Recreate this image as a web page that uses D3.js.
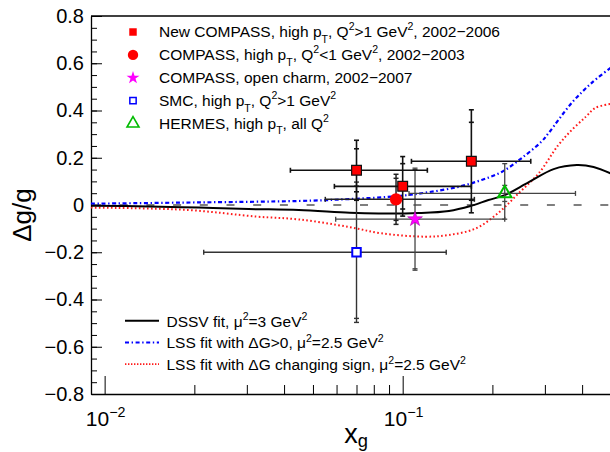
<!DOCTYPE html>
<html lang="en">
<head>
<meta charset="UTF-8">
<style>
    body {margin: 0; background: #fff;}
    text {font-family: "Liberation Sans", Arial, sans-serif; fill: #000;}
</style>
</head>
<body>
<div id="chart"></div>
<script src="https://cdn.jsdelivr.net/npm/d3@7"></script>
<script>

// measurements: x_g, dg/g, stat error, total error (up / down), x_g range
var newCompass = [
    {x: 0.07, y: 0.147, stat: 0.091, up: 0.127, dn: 0.127, xlo: 0.042, xhi: 0.121},
    {x: 0.10, y: 0.079, stat: 0.096, up: 0.126, dn: 0.126, xlo: 0.059, xhi: 0.170},
    {x: 0.17, y: 0.185, stat: 0.165, up: 0.218, dn: 0.218, xlo: 0.107, xhi: 0.269}
];
var compassLowQ2 = [{x: 0.095, y: 0.024, stat: 0.089, up: 0.106, dn: 0.106, xlo: 0.055, xhi: 0.174}];
var openCharm = [{x: 0.11, y: -0.06, stat: 0.21, up: 0.216, dn: 0.216, xlo: 0.0596, xhi: 0.22}];
var smc = [{x: 0.07, y: -0.20, stat: 0.28, up: 0.297, dn: 0.297, xlo: 0.0215, xhi: 0.14}];
var hermes = [{x: 0.22, y: 0.049, stat: 0.034, up: 0.126, dn: 0.109, xlo: 0.105, xhi: 0.38}];

// fit curves
var dssvX = [0.009, 0.0141, 0.0207, 0.0304, 0.0448, 0.0664, 0.083, 0.113, 0.143, 0.169, 0.194, 0.220, 0.265, 0.321, 0.384, 0.437, 0.5];
var dssvY = [-0.003, -0.006, -0.011, -0.017, -0.021, -0.033, -0.036, -0.034, -0.025, -0.004, 0.021, 0.042, 0.097, 0.152, 0.169, 0.161, 0.133];
var lssPosX = [0.009, 0.0207, 0.0448, 0.066, 0.097, 0.122, 0.154, 0.184, 0.215, 0.251, 0.292, 0.309, 0.369, 0.43, 0.5];
var lssPosY = [0.0055, 0.011, 0.017, 0.025, 0.038, 0.054, 0.077, 0.106, 0.140, 0.199, 0.268, 0.305, 0.432, 0.516, 0.582];
var lssSignX = [0.009, 0.019, 0.0323, 0.0448, 0.066, 0.085, 0.119, 0.143, 0.176, 0.210, 0.245, 0.286, 0.333, 0.369, 0.412, 0.443, 0.5];
var lssSignY = [-0.011, -0.021, -0.049, -0.061, -0.093, -0.120, -0.134, -0.127, -0.099, -0.032, 0.050, 0.134, 0.254, 0.317, 0.374, 0.411, 0.428];

// axis ticks
var yMajor = [-0.8, -0.6, -0.4, -0.2, 0, 0.2, 0.4, 0.6, 0.8];
var yMinor = d3.range(-0.8, 0.801, 0.05);
var xMajor = [0.01, 0.1];
var xMajorExp = ["\u22122", "\u22121"];
var xMinor = [0.02, 0.03, 0.04, 0.05, 0.06, 0.07, 0.08, 0.09, 0.2, 0.3, 0.4];

var margin = {top: 16, right: -1, bottom: 58, left: 91};
var width = 610 - margin.left - margin.right;
var height = 452 - margin.top - margin.bottom;

var root = d3.select("#chart").append("svg")
    .attr("width", 610)
    .attr("height", 452)
    .style("display", "block");
root.append("rect").attr("width", 610).attr("height", 452).attr("fill", "#fff");

var svg = root.append("g")
    .attr("transform", "translate(" + margin.left + "," + margin.top + ")");

var x = d3.scaleLog().domain([0.009, 0.5]).range([0, width]);
var y = d3.scaleLinear().domain([-0.8, 0.8]).range([height, 0]);

svg.append("clipPath").attr("id", "plotclip")
    .append("rect").attr("x", 0).attr("y", 0).attr("width", width).attr("height", height);

// helper for text with sub/superscripts
function richText(sel, parts, size, subShift) {
    var shift = 0;
    parts.forEach(function (p) {
        var target = p[1] === "sup" ? -0.42 * size : (p[1] === "sub" ? (subShift || 0.38) * size : 0);
        var t = sel.append("tspan").text(p[0]).attr("dy", target - shift);
        if (p[1]) t.attr("font-size", size * 0.68);
        shift = target;
    });
}

// frame
svg.append("line").attr("x1", 0).attr("x2", width).attr("y1", 0).attr("y2", 0)
    .attr("stroke", "#000").attr("stroke-width", 1.3);

// y axis
var fmt = function (d) { return Math.abs(d) < 1e-9 ? "0" : d3.format(".1f")(d); };
svg.append("g")
    .call(d3.axisLeft(y).tickValues(yMinor).tickSize(-6).tickSizeOuter(0).tickFormat(""))
    .call(function (g) { g.select(".domain").remove(); });
svg.append("g")
    .attr("class", "axis y")
    .call(d3.axisLeft(y).tickValues(yMajor).tickSize(-11).tickSizeOuter(0).tickPadding(7).tickFormat(fmt))
    .call(function (g) {
        g.select(".domain").attr("stroke-width", 1.3);
        g.selectAll("text").attr("font-size", 20).attr("font-family", "Liberation Sans, Arial, sans-serif");
    });

// x axis
svg.append("g")
    .attr("transform", "translate(0," + height + ")")
    .call(d3.axisBottom(x).tickValues(xMinor).tickSize(-9).tickSizeOuter(0).tickFormat(""))
    .call(function (g) { g.select(".domain").attr("stroke-width", 1.3); });
svg.append("g")
    .attr("transform", "translate(0," + height + ")")
    .call(d3.axisBottom(x).tickValues(xMajor).tickSize(-18).tickSizeOuter(0).tickFormat(""))
    .call(function (g) { g.select(".domain").remove(); });
xMajor.forEach(function (v, i) {
    var t = svg.append("text")
        .attr("x", x(v) + 1)
        .attr("y", height + 32)
        .attr("text-anchor", "middle")
        .attr("font-size", 21);
    richText(t, [["10"], [xMajorExp[i], "sup"]], 21);
});

// axis titles
var xt = svg.append("text")
    .attr("x", width / 2 + 5)
    .attr("y", height + 49)
    .attr("text-anchor", "middle")
    .attr("font-size", 27);
richText(xt, [["x"], ["g", "sub"]], 27, 0.15);

root.append("text")
    .attr("transform", "translate(31,215) rotate(-90)")
    .attr("text-anchor", "middle")
    .attr("font-size", 26)
    .text("\u0394g/g");

var plot = svg.append("g").attr("clip-path", "url(#plotclip)");

// zero line
plot.append("line")
    .attr("x1", 2).attr("x2", width)
    .attr("y1", y(0)).attr("y2", y(0))
    .attr("stroke", "#000").attr("stroke-width", 1.2)
    .attr("stroke-dasharray", "8,18.7");

// fit curves
function curve(xs, ys, color, w, dash) {
    var pts = xs.map(function (v, i) { return [v, ys[i]]; });
    plot.append("path")
        .datum(pts)
        .attr("fill", "none")
        .attr("stroke", color)
        .attr("stroke-width", w)
        .attr("stroke-dasharray", dash)
        .attr("d", d3.line()
            .x(function (d) { return x(d[0]); })
            .y(function (d) { return y(d[1]); })
            .curve(d3.curveCatmullRom.alpha(0.5)));
}
curve(lssSignX, lssSignY, "#ff1a1a", 2, "1.6,2.4");
curve(lssPosX, lssPosY, "#0000ff", 2.2, "4,2.6,1.4,2.6");
curve(dssvX, dssvY, "#000", 2, null);

// error bars
function errorBars(data, color, w) {
    var g = plot.append("g").attr("stroke", color).attr("stroke-width", w).attr("fill", "none");
    data.forEach(function (d) {
        var cy = y(d.y), cx = x(d.x);
        g.append("line").attr("x1", x(d.xlo)).attr("x2", x(d.xhi)).attr("y1", cy).attr("y2", cy);
        [d.xlo, d.xhi].forEach(function (e) {
            g.append("line").attr("x1", x(e)).attr("x2", x(e)).attr("y1", cy - 2.5).attr("y2", cy + 2.5);
        });
        g.append("line").attr("x1", cx).attr("x2", cx).attr("y1", y(d.y + d.up)).attr("y2", y(d.y - d.dn));
        [d.y + d.up, d.y - d.dn, d.y + d.stat, d.y - d.stat].forEach(function (e) {
            g.append("line").attr("x1", cx - 2.5).attr("x2", cx + 2.5).attr("y1", y(e)).attr("y2", y(e));
        });
    });
}
errorBars(smc, "#333", 1.4);
errorBars(openCharm, "#444", 1.3);
errorBars(hermes, "#444", 1.3);
errorBars(compassLowQ2, "#222", 1.5);
errorBars(newCompass, "#111", 1.6);

// markers
function markers(data, type, size, fill, stroke, sw) {
    plot.selectAll(null)
        .data(data)
        .enter().append("path")
        .attr("transform", function (d) { return "translate(" + x(d.x) + "," + y(d.y) + ")"; })
        .attr("d", d3.symbol().type(type).size(size))
        .attr("fill", fill)
        .attr("stroke", stroke)
        .attr("stroke-width", sw);
}
markers(smc, d3.symbolSquare, 72, "#fff", "#0000ff", 2);
markers(hermes, d3.symbolTriangle, 78, "none", "#00bb00", 2);
markers(openCharm, d3.symbolStar, 68, "#ff00ff", "#b000b0", 0.6);
markers(compassLowQ2, d3.symbolCircle, 120, "#ff0000", "none", 0);
markers(newCompass, d3.symbolSquare, 95, "#ff0000", "#111", 1.2);

// legend of data sets
var legendData = [
    {sym: d3.symbolSquare, size: 56, fill: "#ff0000", stroke: "none", sw: 0,
        label: [["New COMPASS, high p"], ["T", "sub"], [", Q"], ["2", "sup"], [">1 GeV"], ["2", "sup"], [", 2002\u22122006"]]},
    {sym: d3.symbolCircle, size: 85, fill: "#ff0000", stroke: "none", sw: 0,
        label: [["COMPASS, high p"], ["T", "sub"], [", Q"], ["2", "sup"], ["<1 GeV"], ["2", "sup"], [", 2002\u22122003"]]},
    {sym: d3.symbolStar, size: 52, fill: "#ff00ff", stroke: "none", sw: 0,
        label: [["COMPASS, open charm, 2002\u22122007"]]},
    {sym: d3.symbolSquare, size: 40, fill: "none", stroke: "#0000ff", sw: 1.5,
        label: [["SMC, high p"], ["T", "sub"], [", Q"], ["2", "sup"], [">1 GeV"], ["2", "sup"]]},
    {sym: d3.symbolTriangle, size: 62, fill: "none", stroke: "#00bb00", sw: 1.6,
        label: [["HERMES, high p"], ["T", "sub"], [", all Q"], ["2", "sup"]]}
];
legendData.forEach(function (d, i) {
    var by = 37 + i * 22.9;
    root.append("path")
        .attr("transform", "translate(133," + (by - 5) + ")")
        .attr("d", d3.symbol().type(d.sym).size(d.size))
        .attr("fill", d.fill).attr("stroke", d.stroke).attr("stroke-width", d.sw);
    var t = root.append("text").attr("x", 159).attr("y", by).attr("font-size", 15.5);
    richText(t, d.label, 15.5);
});

// legend of fits
var fitLegend = [
    {color: "#000", w: 2, dash: null,
        label: [["DSSV fit, \u03bc"], ["2", "sup"], ["=3 GeV"], ["2", "sup"]]},
    {color: "#0000ff", w: 2, dash: "4,2.6,1.4,2.6",
        label: [["LSS fit with \u0394G>0, \u03bc"], ["2", "sup"], ["=2.5 GeV"], ["2", "sup"]]},
    {color: "#ff1a1a", w: 1.6, dash: "1.4,1.6",
        label: [["LSS fit with \u0394G changing sign, \u03bc"], ["2", "sup"], ["=2.5 GeV"], ["2", "sup"]]}
];
fitLegend.forEach(function (d, i) {
    var ly = 320.7 + i * 21.7;
    root.append("line")
        .attr("x1", 125).attr("x2", 159).attr("y1", ly).attr("y2", ly)
        .attr("stroke", d.color).attr("stroke-width", d.w).attr("stroke-dasharray", d.dash);
    var t = root.append("text").attr("x", 166.5).attr("y", ly + 6).attr("font-size", 15.5);
    richText(t, d.label, 15.5);
});

</script>
</body>
</html>
